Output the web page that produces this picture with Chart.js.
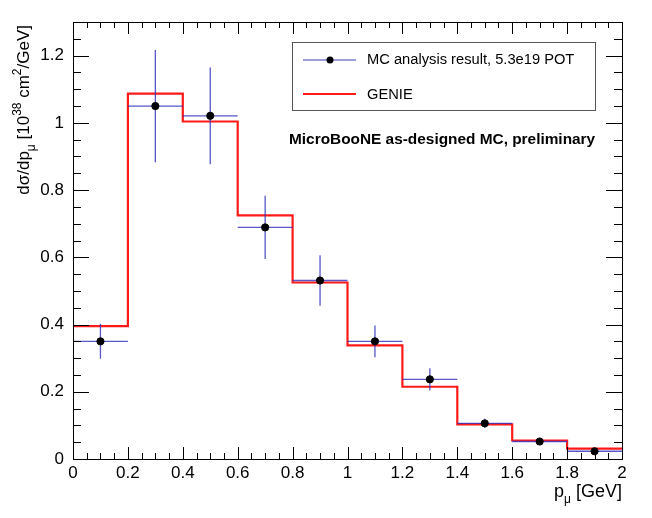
<!DOCTYPE html>
<html>
<head>
<meta charset="utf-8">
<script src="https://cdn.jsdelivr.net/npm/chart.js@4"></script>
<style>
  body { margin: 0; background: #fff; }
  #wrap { width: 652px; height: 518px; }
</style>
</head>
<body>
<div id="wrap"><canvas id="chart" width="652" height="518"></canvas></div>
<script>
// bins in p_mu [GeV]
const binEdges = [0, 0.2, 0.4, 0.6, 0.8, 1.0, 1.2, 1.4, 1.6, 1.8, 2.0];
const binCenters = [0.1, 0.3, 0.5, 0.7, 0.9, 1.1, 1.3, 1.5, 1.7, 1.9];

// MC analysis result, 5.3e19 POT
const mcValues = [0.350, 1.050, 1.021, 0.689, 0.531, 0.350, 0.237, 0.106, 0.052, 0.023];
const mcErrors = [0.052, 0.167, 0.144, 0.094, 0.075, 0.047, 0.033, 0.014, 0.007, 0.005];

// GENIE prediction
const genieValues = [0.395, 1.087, 1.004, 0.725, 0.525, 0.338, 0.215, 0.103, 0.055, 0.031];

const xTicks = [0, 0.2, 0.4, 0.6, 0.8, 1.0, 1.2, 1.4, 1.6, 1.8, 2.0];
const yTicks = [0, 0.2, 0.4, 0.6, 0.8, 1.0, 1.2];

const FONT = '"Liberation Sans", Arial, Helvetica, sans-serif';
const BLUE = 'rgba(45,45,185,0.8)';
const RED = '#ff1a1a';

// step outline: one point per left edge plus the closing right edge
const genieSteps = binEdges.map((e, i) => ({ x: e, y: genieValues[Math.min(i, genieValues.length - 1)] }));
const mcPoints = binCenters.map((c, i) => ({ x: c, y: mcValues[i] }));

// ROOT-like frame with inward ticks on all four sides
const framePlugin = {
  id: 'frame',
  afterDraw(chart) {
    const { ctx, chartArea: a, scales: { x, y } } = chart;
    ctx.save();
    ctx.strokeStyle = '#000';
    ctx.lineWidth = 1;
    ctx.strokeRect(a.left + 0.5, a.top + 0.5, a.right - a.left, a.bottom - a.top);
    ctx.beginPath();
    for (let v = 0; v <= 2.0001; v += 0.05) {
      const major = Math.abs(v / 0.2 - Math.round(v / 0.2)) < 1e-6;
      const px = Math.round(x.getPixelForValue(v)) + 0.5;
      const len = major ? 12 : 6;
      ctx.moveTo(px, a.bottom); ctx.lineTo(px, a.bottom - len);
      ctx.moveTo(px, a.top); ctx.lineTo(px, a.top + len);
    }
    for (let v = 0; v <= 1.3001; v += 0.05) {
      const major = Math.abs(v / 0.2 - Math.round(v / 0.2)) < 1e-6;
      const py = Math.round(y.getPixelForValue(v)) + 0.5;
      const len = major ? 16 : 8;
      ctx.moveTo(a.left, py); ctx.lineTo(a.left + len, py);
      ctx.moveTo(a.right, py); ctx.lineTo(a.right - len, py);
    }
    ctx.stroke();

    // axis titles
    ctx.fillStyle = '#000';
    ctx.textBaseline = 'alphabetic';
    // x title: p_mu [GeV], right aligned
    ctx.font = '18px ' + FONT;
    const rest = ' [GeV]';
    const wRest = ctx.measureText(rest).width;
    ctx.font = '12px ' + FONT;
    const wMu = ctx.measureText('\u03bc').width;
    ctx.font = '18px ' + FONT;
    const wP = ctx.measureText('p').width;
    let xx = a.right - wRest - wMu - wP;
    const by = 497;
    ctx.fillText('p', xx, by); xx += wP;
    ctx.font = '12px ' + FONT;
    ctx.fillText('\u03bc', xx, by + 6); xx += wMu;
    ctx.font = '18px ' + FONT;
    ctx.fillText(rest, xx, by);

    // y title, rotated, right aligned at top of frame
    const parts = [
      ['d\u03c3/dp', 17, 0],
      ['\u03bc', 12, 6],
      [' [10', 17, 0],
      ['38', 12, -8],
      [' cm', 17, 0],
      ['2', 12, -8],
      ['/GeV]', 17, 0]
    ];
    let total = 0;
    parts.forEach(p => { ctx.font = p[1] + 'px ' + FONT; total += ctx.measureText(p[0]).width; });
    ctx.translate(29, 25 + total);
    ctx.rotate(-Math.PI / 2);
    let tx = 0;
    parts.forEach(p => {
      ctx.font = p[1] + 'px ' + FONT;
      ctx.fillText(p[0], tx, p[2]);
      tx += ctx.measureText(p[0]).width;
    });
    ctx.restore();

    // legend box
    ctx.save();
    ctx.strokeStyle = '#555';
    ctx.lineWidth = 1;
    ctx.strokeRect(292.5, 42.5, 303, 68);
    ctx.strokeStyle = 'rgba(110,110,200,0.9)';
    ctx.lineWidth = 1.5;
    ctx.beginPath(); ctx.moveTo(303, 60); ctx.lineTo(356, 60); ctx.stroke();
    ctx.fillStyle = '#000';
    ctx.beginPath(); ctx.arc(330, 60, 3.5, 0, Math.PI * 2); ctx.fill();
    ctx.strokeStyle = RED;
    ctx.lineWidth = 2;
    ctx.beginPath(); ctx.moveTo(303, 94); ctx.lineTo(356, 94); ctx.stroke();
    ctx.font = '14.7px ' + FONT;
    ctx.textBaseline = 'middle';
    ctx.fillText('MC analysis result, 5.3e19 POT', 367, 60);
    ctx.fillText('GENIE', 367, 95);
    ctx.font = 'bold 15.4px ' + FONT;
    ctx.fillText('MicroBooNE as-designed MC, preliminary', 289, 140);
    ctx.restore();
  }
};

// horizontal bin widths and vertical error bars for the MC result
const errorBarPlugin = {
  id: 'errorBars',
  beforeDatasetDraw(chart, args) {
    if (args.index !== 1) return;
    const { ctx, scales: { x, y } } = chart;
    ctx.save();
    ctx.strokeStyle = BLUE;
    ctx.lineWidth = 1.3;
    ctx.beginPath();
    binCenters.forEach((c, i) => {
      const py = y.getPixelForValue(mcValues[i]);
      const px = x.getPixelForValue(c);
      ctx.moveTo(x.getPixelForValue(binEdges[i]), py);
      ctx.lineTo(x.getPixelForValue(binEdges[i + 1]), py);
      ctx.moveTo(px, y.getPixelForValue(mcValues[i] + mcErrors[i]));
      ctx.lineTo(px, y.getPixelForValue(mcValues[i] - mcErrors[i]));
    });
    ctx.stroke();
    ctx.restore();
  }
};

new Chart(document.getElementById('chart'), {
  type: 'scatter',
  data: {
    datasets: [
      {
        label: 'GENIE',
        type: 'line',
        data: genieSteps,
        stepped: 'before',
        borderColor: RED,
        borderWidth: 2.2,
        pointRadius: 0,
        fill: false,
        order: 2
      },
      {
        label: 'MC analysis result, 5.3e19 POT',
        data: mcPoints,
        backgroundColor: '#000',
        borderColor: '#000',
        pointRadius: 3.6,
        order: 1
      }
    ]
  },
  options: {
    responsive: false,
    animation: false,
    layout: { padding: { top: 22, right: 30, left: 0, bottom: 0 } },
    plugins: { legend: { display: false }, tooltip: { enabled: false } },
    scales: {
      x: {
        type: 'linear',
        min: 0,
        max: 2,
        grid: { display: false, drawTicks: false },
        border: { display: false },
        afterBuildTicks: s => { s.ticks = xTicks.map(v => ({ value: v })); },
        afterFit: s => { s.height = 59; },
        ticks: {
          padding: 4,
          maxRotation: 0,
          color: '#000',
          font: { family: FONT, size: 17 },
          callback: v => String(Number(v.toFixed(1)))
        }
      },
      y: {
        min: 0,
        max: 1.3,
        grid: { display: false, drawTicks: false },
        border: { display: false },
        afterBuildTicks: s => { s.ticks = yTicks.map(v => ({ value: v })); },
        afterFit: s => { s.width = 73; },
        ticks: {
          padding: 9,
          color: '#000',
          font: { family: FONT, size: 17 },
          callback: v => String(Number(v.toFixed(1)))
        }
      }
    }
  },
  plugins: [errorBarPlugin, framePlugin]
});
</script>
</body>
</html>
